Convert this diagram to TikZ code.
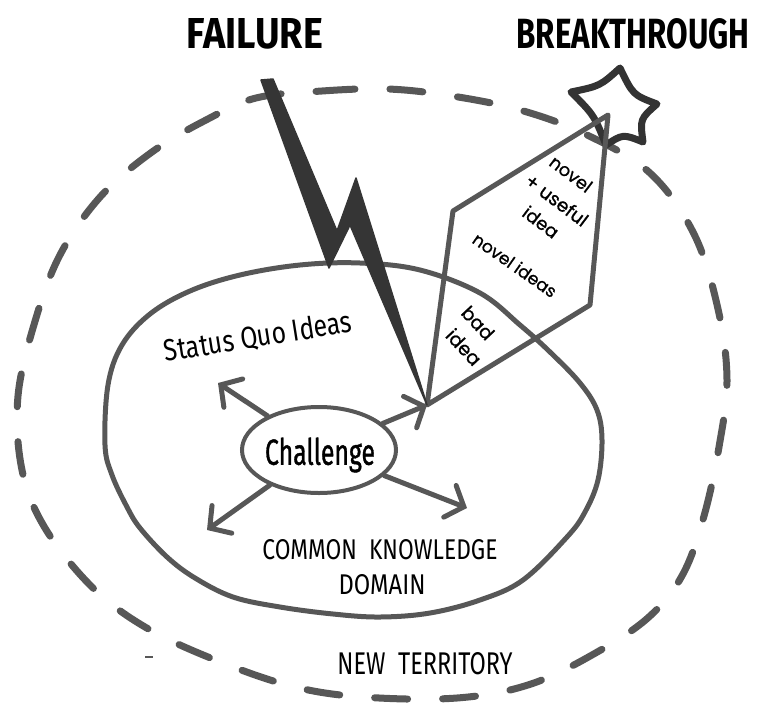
\documentclass[tikz,border=0pt]{standalone}
\usepackage{graphicx}
\usepackage{fontspec}
\setmainfont{Fira Sans}
\newfontfamily\kitefont{Poppins}[FakeBold=0.8]
\newfontfamily\chfont{Fira Sans}[FakeBold=1.2]
\usetikzlibrary{arrows.meta,shapes.geometric}
\definecolor{ink}{HTML}{575757}
\definecolor{boltink}{HTML}{353535}
\definecolor{starink}{HTML}{333333}

\begin{document}
\begin{tikzpicture}[x=1pt,y=-1pt,
  ring/.style={draw=ink,line width=7pt,line cap=round,dash pattern=on 33pt off 35pt},
  domainline/.style={draw=ink,line width=5pt},
  kiteline/.style={draw=ink,line width=5pt,line join=round,line cap=round},
  boltshape/.style={fill=boltink,draw=boltink,line width=1.5pt,line join=round},
  starline/.style={draw=starink,fill=white,line width=7pt,line join=round},
  arr/.style={draw=ink,line width=5pt,line cap=round,
    -{Straight Barb[length=15pt,width=34pt,line cap=round]}},
  blob/.style={ellipse,draw=ink,line width=4pt,minimum width=154pt,minimum height=86pt,inner sep=0pt},
  lbl/.style={inner sep=0pt,text=black},
  kitelbl/.style={inner sep=0pt,text=black,font=\kitefont},
]
\useasboundingbox (0,0) rectangle (763,702);

% outer dashed region: new territory
\draw[ring] plot[smooth cycle,tension=0.6] coordinates {
  (256,98) (322,91) (388,89) (452,96) (520,110) (585,134) (650,173)
  (694,234) (718,309) (727,380) (719,447) (704,516) (683,574) (650,616)
  (599,651) (531,684) (457,698) (363,697) (291,686) (213,659) (145,627)
  (92,587) (45,528) (22,470) (18,396) (36,318) (61,253) (101,196)
  (152,152) (206,120)};

% inner region: common knowledge domain
\draw[domainline] plot[smooth cycle,tension=0.6] coordinates {
  (300,265) (360,263) (420,270) (480,293) (520,325) (550,352) (580,383)
  (597,410) (602,440) (598,480) (585,512) (567,537) (523,580) (480,600)
  (430,613) (380,617) (333,614) (280,607) (233,597) (195,578) (167,557)
  (140,528) (127,507) (112,475) (105,445) (108,385) (122,345) (150,314)
  (190,291) (240,275)};

% breakthrough star
\coordinate (s1) at (620,68);
\coordinate (s2) at (657,104);
\coordinate (s3) at (643,142);
\coordinate (s4) at (606,145);
\coordinate (s5) at (571,92);
\draw[starline] (s1) .. controls (633,95) .. (s2)
  .. controls (640,119) .. (s3)
  .. controls (623,134) .. (s4)
  .. controls (594,115) .. (s5)
  .. controls (600,86) .. (s1) -- cycle;

% idea kite
\coordinate (apex) at (427,405);
\coordinate (kleft) at (453,211);
\coordinate (ktop) at (608,115);
\coordinate (kright) at (590,305);
\draw[kiteline] (apex) -- (kleft) -- (ktop) -- (kright) -- cycle;

% challenge and its arrows
\node[blob] (challenge) at (319,450) {};
\node[lbl] (chtext) at (320,455) {\resizebox*{110pt}{35pt}{\chfont Challenge}};
\coordinate (upleft) at (218,383);
\coordinate (lowleft) at (207,530);
\coordinate (lowright) at (467,508);
\draw[arr] (challenge) -- (upleft);
\draw[arr] (challenge) -- (lowleft);
\draw[arr] (challenge) -- (lowright);
\draw[arr] (challenge) -- (apex);

% failure bolt
\coordinate (b0l) at (261,80);
\coordinate (b0r) at (273,79);
\coordinate (b1o) at (329,268);
\coordinate (b1i) at (337,231);
\coordinate (b2o) at (356,178);
\coordinate (b2i) at (350,225);
\draw[boltshape] (b0l) -- (b1o) -- (b2i) -- (apex) -- (b2o) -- (b1i) -- (b0r) -- cycle;

% stray pen mark
\draw[ink,line width=1.5pt] (145,657) -- (153,657);

% labels
\node[lbl] (failure) at (255,34) {\resizebox{136pt}{30pt}{\bfseries FAILURE}};
\node[lbl] (breakthrough) at (633,34) {\resizebox{233pt}{30pt}{\bfseries BREAKTHROUGH}};
\node[lbl,rotate=9] (statusquo) at (258,337) {\resizebox*{190pt}{26pt}{Status Quo Ideas}};
\node[lbl] (common) at (380,550) {\resizebox{235pt}{20pt}{COMMON\ \ KNOWLEDGE}};
\node[lbl] (domain) at (382,585) {\resizebox{87pt}{20pt}{DOMAIN}};
\node[lbl] (newterr) at (425,664) {\resizebox{175pt}{22pt}{NEW\ \ TERRITORY}};

\node[kitelbl,rotate=-37] (novel1) at (571,174) {\resizebox{48pt}{!}{novel}};
\node[kitelbl,rotate=-37] (useful) at (557,200) {\resizebox{73pt}{!}{+ useful}};
\node[kitelbl,rotate=-37] (idea1) at (541,222) {\resizebox{40pt}{!}{idea}};
\node[kitelbl,rotate=-35] (novelideas) at (515,265) {\resizebox{98pt}{!}{novel ideas}};
\node[kitelbl,rotate=-47] (bad) at (478,323) {\resizebox{38pt}{!}{bad}};
\node[kitelbl,rotate=-47] (idea2) at (464,347) {\resizebox{42pt}{!}{idea}};
\end{tikzpicture}
\end{document}
